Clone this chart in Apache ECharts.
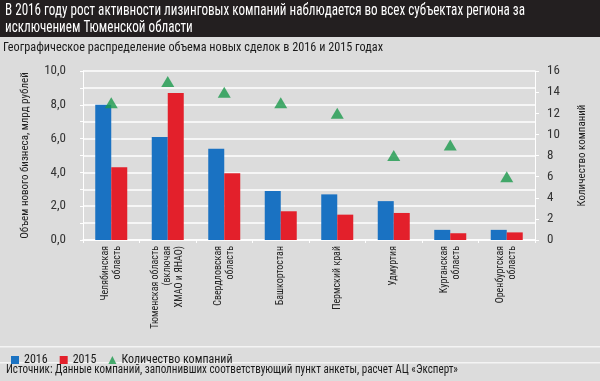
<!DOCTYPE html>
<html><head><meta charset="utf-8">
<script src="https://cdn.jsdelivr.net/npm/echarts@6/dist/echarts.min.js"></script>
<style>html,body{margin:0;padding:0;background:#dcdcdc}#c{width:600px;height:381px}</style>
</head><body><div id="c"></div>
<script>
const categories = ["Челябинская\nобласть","Тюменская область\n(включая\nХМАО и ЯНАО)","Свердловская\nобласть","Башкортостан","Пермский край","Удмуртия","Курганская\nобласть","Оренбургская\nобласть"];
const values2016 = [8.0, 6.1, 5.4, 2.9, 2.7, 2.3, 0.6, 0.6];
const values2015 = [4.3, 8.7, 3.95, 1.7, 1.5, 1.6, 0.4, 0.45];
const companies = [13, 15, 14, 13, 12, 8, 9, 6];
const leftTicks = [0, 2, 4, 6, 8, 10];
const rightTicks = [0, 2, 4, 6, 8, 10, 12, 14, 16];

const FONT = '"Roboto Condensed","DejaVu Sans Condensed",sans-serif';
const mctx = document.createElement('canvas').getContext('2d');
function fitScale(text, px, target){
  mctx.font = px + 'px ' + FONT;
  const w = Math.max.apply(null, text.split('\n').map(t => mctx.measureText(t).width));
  return target / w;
}
const titleText = 'В 2016 году рост активности лизинговых компаний наблюдается во всех субъектах региона за\nисключением Тюменской области';
const subText = 'Географическое распределение объема новых сделок в 2016 и 2015 годах';
const srcText = 'Источник: Данные компаний, заполнивших соответствующий пункт анкеты, расчет АЦ «Эксперт»';

const chart = echarts.init(document.getElementById('c'), null, {renderer:'canvas'});
chart.setOption({
  backgroundColor:'#dcdcdc',
  textStyle:{fontFamily:FONT},
  animation:false,
  graphic:[
    {type:'rect', shape:{x:0,y:0,width:600,height:37}, style:{fill:'#231f20'}, z:-1},
    {type:'rect', shape:{x:0,y:346,width:600,height:1.5}, style:{fill:'#f4f4f4'}},
    {type:'rect', shape:{x:0,y:362,width:600,height:1.5}, style:{fill:'#f4f4f4'}},
    {type:'text', x:5, y:2, scaleX:fitScale(titleText,16,520), style:{text:titleText, fill:'#ffffff', font:'16px '+FONT, lineHeight:17}},
    {type:'text', x:3, y:41, scaleX:fitScale(subText,13,380), style:{text:subText, fill:'#1a1a1a', font:'13px '+FONT}},
    {type:'text', x:6, y:363, scaleX:fitScale(srcText,12.5,452), style:{text:srcText, fill:'#1a1a1a', font:'12.5px '+FONT}}
  ],
  legend:{
    left:6, top:349, itemWidth:8, itemHeight:8, itemGap:12,
    textStyle:{fontSize:12, color:'#1a1a1a', fontFamily:FONT},
    data:[{name:'2016', icon:'rect'},{name:'2015', icon:'rect'},{name:'Количество компаний', icon:'triangle'}]
  },
  grid:{left:83, right:65, top:71, bottom:141},
  xAxis:{
    type:'category', data:categories,
    axisLine:{lineStyle:{color:'#ffffff', width:1.5}},
    axisTick:{show:true, length:3, lineStyle:{color:'#ffffff'}},
    axisLabel:{rotate:90, fontSize:10, color:'#222', lineHeight:12, margin:6, fontFamily:FONT, interval:0}
  },
  yAxis:[
    {type:'value', min:0, max:10, interval:1,
     name:'Объем нового бизнеса, млрд рублей', nameLocation:'middle', nameRotate:90, nameGap:52,
     nameTextStyle:{fontSize:11, color:'#222', fontFamily:FONT},
     axisLine:{show:true, lineStyle:{color:'#ffffff'}},
     axisTick:{show:true, length:3, lineStyle:{color:'#ffffff'}},
     splitLine:{lineStyle:{color:'#ffffff', width:1.5}},
     axisLabel:{fontSize:13, color:'#333', margin:17, fontFamily:FONT,
       formatter:v => leftTicks.indexOf(v) >= 0 ? v.toFixed(1).replace('.', ',') : ''}},
    {type:'value', min:0, max:16, interval:2,
     name:'Количество компаний', nameLocation:'middle', nameRotate:90, nameGap:42,
     nameTextStyle:{fontSize:11, color:'#222', fontFamily:FONT},
     axisLine:{show:true, lineStyle:{color:'#ffffff'}},
     axisTick:{show:true, length:4, lineStyle:{color:'#ffffff'}},
     splitLine:{show:false},
     axisLabel:{fontSize:13, color:'#333', margin:12, fontFamily:FONT,
       formatter:v => rightTicks.indexOf(v) >= 0 ? String(v) : ''}}
  ],
  series:[
    {name:'2016', type:'bar', data:values2016, barWidth:16, barGap:'0%', itemStyle:{color:'#1a72c2'}},
    {name:'2015', type:'bar', data:values2015, barWidth:16, itemStyle:{color:'#e3202b'}},
    {name:'Количество компаний', type:'scatter', yAxisIndex:1, data:companies, symbol:'triangle', symbolSize:[13,11], itemStyle:{color:'#1c9a4c'}, z:5}
  ]
});
</script></body></html>
